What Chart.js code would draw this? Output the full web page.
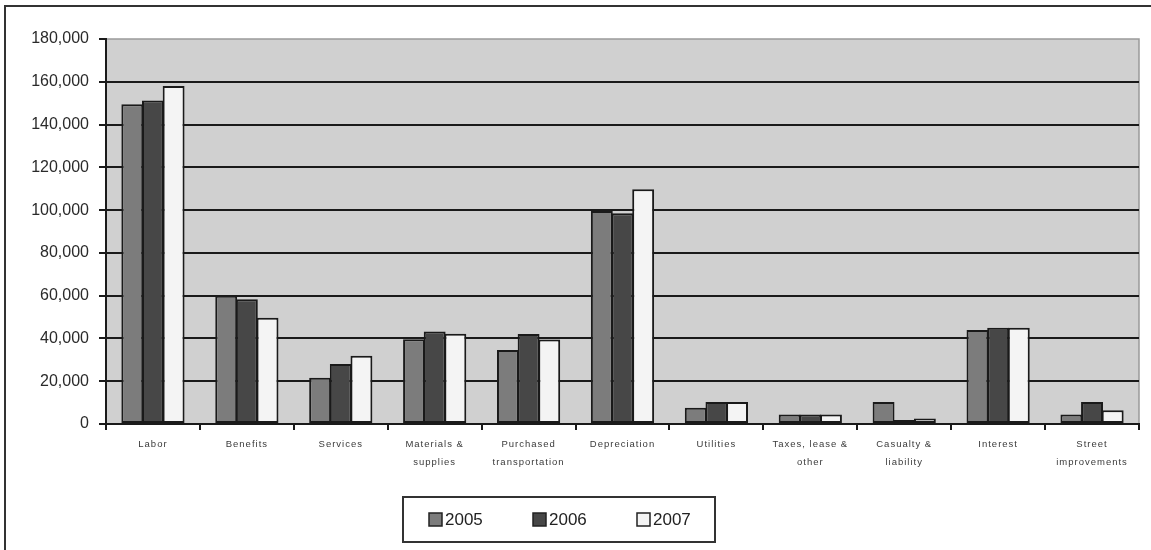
<!DOCTYPE html>
<html>
<head>
<meta charset="utf-8">
<script src="https://cdn.jsdelivr.net/npm/chart.js@4/dist/chart.umd.min.js"></script>
<style>
  html, body { margin: 0; padding: 0; background: #fff; }
  #wrap { position: relative; width: 1151px; height: 550px; }
</style>
</head>
<body>
<div id="wrap"><canvas id="c" width="1151" height="550"></canvas></div>
<script>
const categories = [
  ['Labor'], ['Benefits'], ['Services'], ['Materials &', 'supplies'],
  ['Purchased', 'transportation'], ['Depreciation'], ['Utilities'],
  ['Taxes, lease &', 'other'], ['Casualty &', 'liability'], ['Interest'],
  ['Street', 'improvements']
];
const seriesNames = ['2005', '2006', '2007'];
const values2005 = [149500, 60000, 21600, 39600, 34600, 99600, 7600, 4500, 10300, 44000, 4500];
const values2006 = [151300, 58300, 28000, 43200, 42100, 98500, 10300, 4500, 1900, 45000, 10300];
const values2007 = [158000, 49700, 31900, 42200, 39500, 109700, 10300, 4500, 2600, 45000, 6400];
const yTicks = [0, 20000, 40000, 60000, 80000, 100000, 120000, 140000, 160000, 180000];

const colors = ['#7c7c7c', '#474747', '#f4f4f4'];
const seriesValues = [values2005, values2006, values2007];

const bgPlugin = {
  id: 'bg',
  beforeDraw(chart) {
    const { ctx, chartArea: a } = chart;
    ctx.save();
    ctx.fillStyle = '#fff';
    ctx.fillRect(0, 0, chart.width, chart.height);
    ctx.fillStyle = '#d0d0d0';
    ctx.fillRect(a.left, a.top, a.right - a.left, a.bottom - a.top);
    ctx.strokeStyle = '#9a9a9a';
    ctx.lineWidth = 1.5;
    ctx.strokeRect(a.left, a.top, a.right - a.left, a.bottom - a.top);
    ctx.restore();
  },
  afterDatasetsDraw(chart) {
    chart.ctx.letterSpacing = '1px';
  },
  afterDraw(chart) {
    const ctx = chart.ctx;
    ctx.letterSpacing = '0px';
    ctx.save();
    ctx.strokeStyle = '#333';
    ctx.lineWidth = 2;
    ctx.beginPath();
    ctx.moveTo(5, 550); ctx.lineTo(5, 6); ctx.lineTo(1151, 6);
    ctx.stroke();
    const lx = 403, ly = 497, lw = 312, lh = 45;
    ctx.strokeStyle = '#333';
    ctx.lineWidth = 2;
    ctx.strokeRect(lx, ly, lw, lh);
    const cy = ly + lh / 2;
    ctx.font = '17px "Liberation Sans", Arial, sans-serif';
    ctx.textBaseline = 'middle';
    ctx.textAlign = 'left';
    chart.data.datasets.forEach((ds, i) => {
      const x = 429 + i * 104;
      ctx.fillStyle = ds.backgroundColor;
      ctx.fillRect(x, cy - 6.5, 13, 13);
      ctx.strokeStyle = '#222';
      ctx.lineWidth = 1.5;
      ctx.strokeRect(x, cy - 6.5, 13, 13);
      ctx.fillStyle = '#222';
      ctx.fillText(ds.label, x + 16, cy + 1);
    });
    ctx.restore();
  }
};

new Chart(document.getElementById('c'), {
  type: 'bar',
  data: {
    labels: categories,
    datasets: seriesNames.map((name, i) => ({
      label: name,
      data: seriesValues[i],
      backgroundColor: colors[i],
      borderColor: '#1a1a1a',
      borderWidth: 2,
      borderSkipped: false,
      categoryPercentage: 0.66,
      barPercentage: 1.06
    }))
  },
  options: {
    responsive: false,
    animation: false,
    devicePixelRatio: 1,
    layout: { padding: { left: 10, right: 12, top: 39, bottom: 79 } },
    plugins: {
      legend: { display: false },
      tooltip: { enabled: false }
    },
    scales: {
      x: {
        grid: {
          offset: true,
          drawOnChartArea: false,
          drawTicks: true,
          tickLength: 6,
          color: '#1a1a1a',
          lineWidth: 2
        },
        border: { display: true, color: '#1a1a1a', width: 2 },
        ticks: {
          z: 1,
          padding: 5,
          color: '#3a3a3a',
          maxRotation: 0,
          autoSkip: false,
          font: { family: '"Liberation Sans", Arial, sans-serif', size: 9.5, lineHeight: 1.9 }
        },
        afterFit(scale) { scale.height = 47; }
      },
      y: {
        min: 0,
        max: 180000,
        afterBuildTicks(scale) { scale.ticks = yTicks.map(v => ({ value: v })); },
        grid: {
          drawTicks: true,
          tickLength: 7,
          color: (c) => (c.tick && c.tick.value === 180000) ? 'rgba(0,0,0,0)' : '#1a1a1a',
          tickColor: '#1a1a1a',
          lineWidth: 2
        },
        border: { display: true, color: '#1a1a1a', width: 2 },
        ticks: {
          padding: 10,
          color: '#2a2a2a',
          font: { family: '"Liberation Sans", Arial, sans-serif', size: 16 },
          callback: (v) => Number(v).toLocaleString('en-US')
        },
        afterFit(scale) { scale.width = 96; }
      }
    }
  },
  plugins: [bgPlugin]
});
</script>
</body>
</html>
